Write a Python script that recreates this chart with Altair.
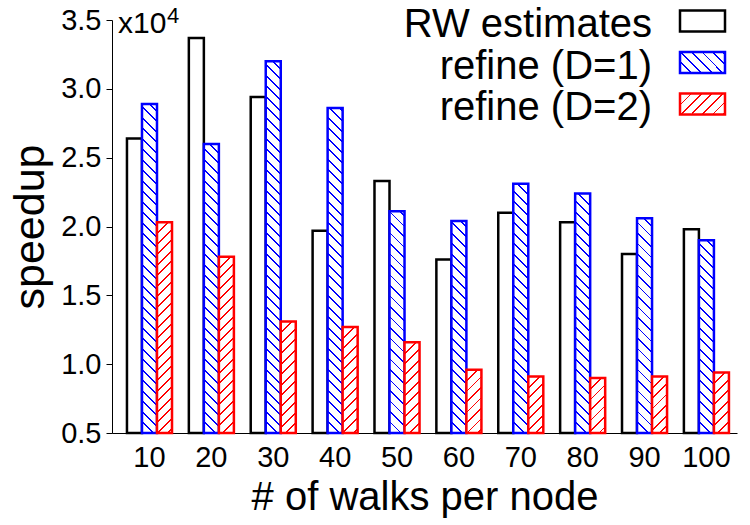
import altair as alt
import pandas as pd

# ---------------- data ----------------
walks = [10, 20, 30, 40, 50, 60, 70, 80, 90, 100]
series = ["RW estimates", "refine (D=1)", "refine (D=2)"]
rw_estimates = [2.64, 3.37, 2.94, 1.97, 2.33, 1.76, 2.10, 2.03, 1.80, 1.98]
refine_d1 = [2.89, 2.60, 3.20, 2.86, 2.11, 2.04, 2.31, 2.24, 2.06, 1.90]
refine_d2 = [2.03, 1.78, 1.31, 1.27, 1.16, 0.96, 0.91, 0.90, 0.91, 0.94]
y_ticks = [0.5, 1.0, 1.5, 2.0, 2.5, 3.0, 3.5]

# ---------------- styles / layout ----------------
colors = ["#000000", "#0000ff", "#ff0000"]
FONT = "Liberation Sans"
W_PLOT, H_PLOT = 625, 413
Y_MIN, Y_MAX = 0.5, 3.5
PAD_IN, PAD_OUT, ALIGN = 0.272, 0.186, 0.65
PX_PER_UNIT = H_PLOT / (Y_MAX - Y_MIN)
STEP = W_PLOT / (len(walks) - PAD_IN + 2 * PAD_OUT)
BAR_W = STEP * (1 - PAD_IN) / len(series)

rows = []
for s, vals in zip(series, [rw_estimates, refine_d1, refine_d2]):
    for w, v in zip(walks, vals):
        rows.append({"walks": w, "series": s, "value": v})
df = pd.DataFrame(rows)

# hatch pattern emulated with a hard-stop linear gradient
PERIOD, LINE_W, N_STRIPES = 10.5, 1.9, 44
DIST = PERIOD * N_STRIPES


def stops(color):
    out = []
    for k in range(N_STRIPES):
        a = k * PERIOD / DIST
        b = (k * PERIOD + LINE_W) / DIST
        c = (k + 1) * PERIOD / DIST
        out += [
            f"{{offset:{a:.5f},color:'{color}'}}",
            f"{{offset:{b:.5f},color:'{color}'}}",
            f"{{offset:{b:.5f},color:'#ffffff'}}",
            f"{{offset:{c:.5f},color:'#ffffff'}}",
        ]
    return "[" + ",".join(out) + "]"


K = f"({DIST}/(datum.gw*datum.gw+datum.gh*datum.gh))"
blue_grad = (f"{{gradient:'linear',x1:0,y1:1,x2:{K}*datum.gw,y2:1-{K}*datum.gh,"
             f"stops:{stops(colors[1])}}}")
red_grad = (f"{{gradient:'linear',x1:0,y1:0,x2:{K}*datum.gw,y2:{K}*datum.gh,"
            f"stops:{stops(colors[2])}}}")
grad_expr = (f"datum.series==='{series[1]}'?{blue_grad}:"
             f"(datum.series==='{series[2]}'?{red_grad}:'#ffffff')")

stroke_scale = alt.Scale(domain=series, range=colors)

bars = (
    alt.Chart(df)
    .transform_calculate(gw=f"{BAR_W}", gh=f"(datum.value-{Y_MIN})*{PX_PER_UNIT}")
    .transform_calculate(grad=grad_expr)
    .mark_bar(strokeWidth=2.5, aria=False)
    .encode(
        x=alt.X("walks:O", sort=walks,
                scale=alt.Scale(paddingInner=PAD_IN, paddingOuter=PAD_OUT, align=ALIGN),
                axis=alt.Axis(title="# of walks per node", labelAngle=0, ticks=False,
                              labelPadding=10, titlePadding=5)),
        xOffset=alt.XOffset("series:N", sort=series,
                            scale=alt.Scale(paddingInner=0, paddingOuter=0)),
        y=alt.Y("value:Q", scale=alt.Scale(domain=[Y_MIN, Y_MAX], zero=False, nice=False),
                axis=alt.Axis(title="speedup", values=y_ticks, format=".1f",
                              tickSize=6, labelPadding=5, titlePadding=8,
                              titleFontSize=43)),
        y2=alt.datum(Y_MIN),
        fill=alt.Fill("grad:N", scale=None),
        stroke=alt.Stroke("series:N", scale=stroke_scale, legend=None),
    )
)

# manual legend (symbols right of labels)
LEG_W, LEG_H = 45, 21
half = LEG_H / LEG_W
box_path = f"M-1,-{half:.4f}H1V{half:.4f}H-1Z"
leg_base = (
    alt.Chart(pd.DataFrame({"series": series}))
    .transform_calculate(gw=f"{LEG_W}", gh=f"{LEG_H}")
    .transform_calculate(grad=grad_expr)
)
leg_y = alt.Y("series:N", sort=series, scale=alt.Scale(range=[1, 84], padding=0), axis=None)
leg_boxes = leg_base.mark_point(shape=box_path, size=LEG_W * LEG_W, filled=True, opacity=1,
                                strokeWidth=2.5, aria=False).encode(
    x=alt.value(590.5),
    y=leg_y,
    fill=alt.Fill("grad:N", scale=None),
    stroke=alt.Stroke("series:N", scale=stroke_scale, legend=None),
)
leg_text = leg_base.mark_text(align="right", baseline="alphabetic", dy=16, fontSize=40,
                              font=FONT, color="black").encode(
    x=alt.value(540), y=leg_y, text="series:N")

mult = alt.Chart(pd.DataFrame({"t": ["x10"]})).mark_text(
    align="left", baseline="alphabetic", fontSize=30, font=FONT, color="black"
).encode(x=alt.value(6), y=alt.value(13), text="t:N")
expo = alt.Chart(pd.DataFrame({"t": ["4"]})).mark_text(
    align="left", baseline="alphabetic", fontSize=22, font=FONT, color="black"
).encode(x=alt.value(55), y=alt.value(3), text="t:N")

chart = (
    alt.layer(bars, leg_boxes, leg_text, mult, expo)
    .resolve_scale(y="independent")
    .properties(
        width=W_PLOT, height=H_PLOT,
        autosize=alt.AutoSizeParams(type="none"),
        padding={"left": 112, "top": 20, "right": 13, "bottom": 92},
        background="white",
    )
    .configure_view(stroke=None)
    .configure_axis(
        grid=False, domainColor="black", domainWidth=1, tickColor="black", tickWidth=1,
        labelFont=FONT, labelFontSize=29, labelColor="black",
        titleFont=FONT, titleFontSize=40, titleFontWeight="normal", titleColor="black",
    )
)

chart.save("out.html", embed_options={"renderer": "svg", "actions": False})
